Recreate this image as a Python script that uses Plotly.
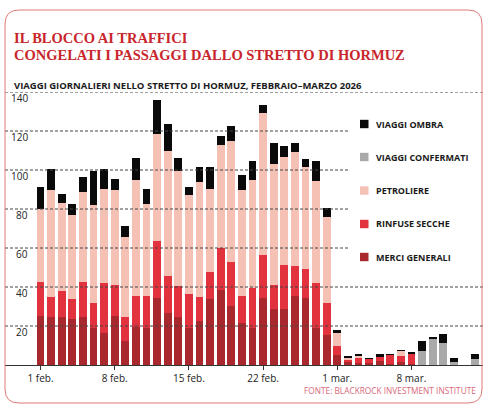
import plotly.graph_objects as go
import pandas as pd

dates = pd.date_range("2026-02-01", "2026-03-14", freq="D")

merci_generali = [25.2, 24.6, 24.6, 23.4, 24.6, 18.8, 16.5, 25.2, 12.1,
                  19.4, 18.8, 34.3, 26.9, 24.6, 18.8, 22.7, 33.6, 38.5,
                  30.4, 21.5, 18.8, 34.3, 28.6, 28.6, 35.5, 34.4, 18.8, 15.2,
                  5.1, 1.4, 1.2, 0.8, 2.2, 0.5, 1.7, 0.5,
                  0, 0, 0, 0, 0, 0]
rinfuse_secche = [17.6, 10.2, 13.3, 10.2, 18.2, 12.9, 25.4, 15.6, 12.5,
                  16.2, 16.8, 29.1, 18.6, 15.8, 17.7, 12.1, 14.1, 21.7,
                  22.3, 14.1, 20.8, 22.3, 12.3, 22.9, 15.1, 14.7, 23.3, 16.5,
                  4.6, 1.2, 2.6, 2.1, 1.9, 4.8, 2.9, 5.0,
                  0, 0, 0, 0, 0, 0]
petroliere = [37.0, 55.2, 45.0, 43.1, 45.7, 50.1, 48.5, 49.2, 41.2,
              59.5, 46.8, 55.3, 64.3, 59.0, 50.5, 59.3, 42.8, 52.8,
              62.2, 54.1, 55.4, 72.5, 62.4, 55.4, 58.5, 52.5, 52.5, 44.3,
              6.9, 1.0, 1.0, 0, 0, 0, 2.6, 0,
              0, 0, 0, 0, 0, 0]
viaggi_confermati = [0] * 36 + [7.4, 13.3, 11.5, 1.7, 0, 2.9]
viaggi_ombra = [11.6, 10.6, 4.6, 6.0, 8.0, 17.8, 9.9, 5.5, 5.6,
                11.3, 8.0, 17.4, 13.6, 7.0, 4.2, 7.5, 11.1, 4.3,
                7.7, 7.8, 9.5, 4.4, 10.3, 5.5, 4.6, 3.8, 9.9, 4.6,
                1.3, 1.2, 0.7, 0.7, 1.7, 0.3, 0.7, 1.2,
                5.1, 1.2, 4.2, 1.7, 0, 2.6]

tick_dates = ["2026-02-01", "2026-02-08", "2026-02-15", "2026-02-22", "2026-03-01", "2026-03-08"]
tick_labels = ["1 feb.", "8 feb.", "15 feb.", "22 feb.", "1 mar.", "8 mar."]
y_ticks = [20, 40, 60, 80, 100, 120, 140]

series = [
    ("MERCI GENERALI", merci_generali, "#a8282d"),
    ("RINFUSE SECCHE", rinfuse_secche, "#e2323e"),
    ("PETROLIERE", petroliere, "#f5c1b5"),
    ("VIAGGI CONFERMATI", viaggi_confermati, "#a9a9a9"),
    ("VIAGGI OMBRA", viaggi_ombra, "#0a0a0a"),
]

W, H = 483, 406
ML, MR, MT, MB = 5, 0, 92, 41
PW = W - ML - MR
PH = H - MT - MB


def px(x):
    return (x - ML) / PW


def py(y):
    return (H - MB - y) / PH


fig = go.Figure()
for name, vals, col in series:
    fig.add_trace(go.Bar(x=dates, y=vals, name=name, marker=dict(color=col, line=dict(width=0)),
                         showlegend=False))

d0 = pd.Timestamp("2026-02-01")
x_start = d0 - pd.Timedelta(days=3.35)
x_end = d0 + pd.Timedelta(days=41.75)

shapes = []
# gridlines
for v in y_ticks:
    if v in (20, 40, 140):
        x1 = 1.0
    else:
        x1 = px(348)
    shapes.append(dict(type="line", xref="paper", yref="y", x0=0, x1=x1, y0=v, y1=v,
                       line=dict(color="#444444", width=1, dash="3px,2px"), layer="above"))

# frame
fx0, fx1, fy0, fy1, r = 5, 482, 10, 403, 14
path = (f"M {px(fx0)},{py(fy0 + r)} Q {px(fx0)},{py(fy0)} {px(fx0 + r)},{py(fy0)} "
        f"L {px(fx1 - r)},{py(fy0)} Q {px(fx1)},{py(fy0)} {px(fx1)},{py(fy0 + r)} "
        f"L {px(fx1)},{py(fy1 - r)} Q {px(fx1)},{py(fy1)} {px(fx1 - r)},{py(fy1)} "
        f"L {px(fx0 + r)},{py(fy1)} Q {px(fx0)},{py(fy1)} {px(fx0)},{py(fy1 - r)} Z")
shapes.append(dict(type="path", xref="paper", yref="paper", path=path,
                   line=dict(color="#de7b78", width=1), layer="above"))

annotations = []
# y tick labels
for v in y_ticks:
    annotations.append(dict(x=px(30), y=v, xref="paper", yref="y", text=str(v), showarrow=False,
                            xanchor="right", yanchor="middle", yshift=-6,
                            font=dict(family="Open Sans", size=10, color="#222")))

# legend
legend_items = [("VIAGGI OMBRA", "#0a0a0a", 124), ("VIAGGI CONFERMATI", "#a9a9a9", 157),
                ("PETROLIERE", "#f5c1b5", 190.5), ("RINFUSE SECCHE", "#e2323e", 224),
                ("MERCI GENERALI", "#a8282d", 257)]
for name, col, yc in legend_items:
    shapes.append(dict(type="rect", xref="paper", yref="paper", x0=px(360), x1=px(368.5),
                       y0=py(yc + 4.2), y1=py(yc - 4.2), fillcolor=col, line=dict(width=0)))
    annotations.append(dict(x=px(374), y=py(yc), xref="paper", yref="paper", text=name,
                            showarrow=False, xanchor="left", yanchor="middle",
                            font=dict(family="Open Sans", size=9, color="#1a1a1a", weight="bold")))

# titles
annotations.append(dict(x=px(12), y=py(38), xref="paper", yref="paper",
                        text="IL BLOCCO AI TRAFFICI", showarrow=False, xanchor="left", yanchor="middle",
                        font=dict(family="Liberation Serif", size=14.5, color="#c8262c", weight="bold")))
annotations.append(dict(x=px(12), y=py(55), xref="paper", yref="paper",
                        text="CONGELATI I PASSAGGI DALLO STRETTO DI HORMUZ", showarrow=False,
                        xanchor="left", yanchor="middle",
                        font=dict(family="Liberation Serif", size=14.5, color="#c8262c", weight="bold")))
annotations.append(dict(x=px(12), y=py(85), xref="paper", yref="paper",
                        text="VIAGGI GIORNALIERI NELLO STRETTO DI HORMUZ, FEBBRAIO\u2013MARZO 2026",
                        showarrow=False, xanchor="left", yanchor="middle",
                        font=dict(family="Open Sans", size=9.5, color="#1a1a1a", weight="bold")))
annotations.append(dict(x=px(478), y=py(390), xref="paper", yref="paper",
                        text="FONTE: BLACKROCK INVESTMENT INSTITUTE", showarrow=False,
                        xanchor="right", yanchor="middle",
                        font=dict(family="Open Sans", size=8.3, color="#d8687a")))

fig.update_layout(
    width=W, height=H,
    margin=dict(l=ML, r=MR, t=MT, b=MB, pad=0),
    barmode="stack", bargap=0.27,
    plot_bgcolor="white", paper_bgcolor="white",
    shapes=shapes, annotations=annotations,
    hovermode=False,
    xaxis=dict(type="date", range=[x_start, x_end], tickvals=tick_dates, ticktext=tick_labels,
               ticks="outside", ticklen=4, tickcolor="#333", showgrid=False, zeroline=False,
               showline=True, linecolor="#333", linewidth=1, fixedrange=True,
               tickfont=dict(family="Open Sans", size=10, color="#222")),
    yaxis=dict(range=[0, 140], showgrid=False, zeroline=False, showticklabels=False,
               showline=False, fixedrange=True),
)

fig.write_html("out.html", config={"displayModeBar": False, "staticPlot": True},
               post_script="document.body.style.margin='0';document.body.style.overflow='hidden';")
